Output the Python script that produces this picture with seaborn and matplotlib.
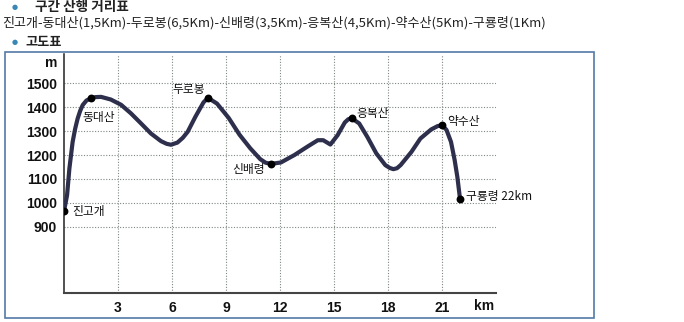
import numpy as np
import pandas as pd
import matplotlib
matplotlib.use("Agg")
import matplotlib.pyplot as plt
from matplotlib.patches import Rectangle
import seaborn as sns

# Trail segments (km) between the checkpoints
segment_names = ["진고개", "동대산", "두로봉", "신배령", "응복산", "약수산", "구룡령"]
segment_km = [1.5, 6.5, 3.5, 4.5, 5, 1]
peak_elev = [965, 1437, 1439, 1163, 1353, 1325, 1018]

# Elevation profile along the ridge (distance km, elevation m)
profile_km = [0, 0.17, 0.3, 0.48, 0.62, 0.76, 0.9, 1.04, 1.25, 1.5, 1.75, 2.06,
              2.6, 3.17, 3.72, 4.28, 4.83, 5.39, 5.7, 5.94, 6.3, 6.6, 6.87,
              7.3, 7.75, 8.0, 8.5, 9.15, 9.75, 10.35, 10.9, 11.2, 11.5, 12.05,
              12.8, 13.5, 14.1, 14.4, 14.8, 15.2, 15.6, 15.8, 16.0, 16.4,
              16.85, 17.35, 17.85, 18.1, 18.3, 18.5, 18.7, 19.3, 19.8, 20.4,
              20.76, 21.0, 21.25, 21.5, 21.7, 21.85, 22.0]
profile_elev = [965, 1032, 1144, 1255, 1310, 1353, 1385, 1409, 1428, 1437, 1442,
                1443, 1432, 1410, 1374, 1332, 1290, 1258, 1247, 1243, 1252, 1272,
                1297, 1360, 1420, 1439, 1415, 1355, 1285, 1228, 1183, 1168, 1163,
                1169, 1200, 1234, 1262, 1262, 1244, 1283, 1336, 1350, 1353, 1332,
                1276, 1207, 1158, 1146, 1141, 1145, 1158, 1213, 1269, 1307, 1321,
                1325, 1305, 1255, 1180, 1110, 1018]

y_ticks = [900, 1000, 1100, 1200, 1300, 1400, 1500]
x_ticks = [3, 6, 9, 12, 15, 18, 21]

header_title = "구간 산행 거리표"
header_route = "진고개-동대산(1,5Km)-두로봉(6,5Km)-신배령(3,5Km)-응복산(4,5Km)-약수산(5Km)-구룡령(1Km)"
chart_title = "고도표"

peak_km = np.concatenate([[0], np.cumsum(segment_km)])
peaks = pd.DataFrame({"name": segment_names, "km": peak_km, "elev": peak_elev})
profile = pd.DataFrame({"km": profile_km, "elev": profile_elev})

sns.set_theme(style="white")
KR = ["Noto Sans CJK KR", "DejaVu Sans"]
NUM = ["Liberation Sans", "DejaVu Sans"]
plt.rcParams["font.family"] = KR

W, H = 684, 322
fig = plt.figure(figsize=(W / 100, H / 100), dpi=100)
fig.patch.set_facecolor("white")

def fx(px):
    return px / W

def fy(py):
    return 1 - py / H

# Header block
bullet_color = "#3a86b4"
fig.text(fx(15), fy(7), "●", fontsize=5, color=bullet_color, ha="center", va="center",
         family=["DejaVu Sans"])
fig.text(fx(35), fy(7), header_title, fontsize=9.8, fontweight="bold", color="#222222",
         ha="left", va="center", family=KR)
fig.text(fx(2), fy(22.5), header_route, fontsize=9.4, color="#222222",
         ha="left", va="center", family=KR)
fig.text(fx(15), fy(42), "●", fontsize=5, color=bullet_color, ha="center", va="center",
         family=["DejaVu Sans"])
fig.text(fx(25), fy(42), chart_title, fontsize=9.5, fontweight="bold", color="#222222",
         ha="left", va="center", family=KR)

# Box around the chart
fig.add_artist(Rectangle((fx(5), fy(318)), fx(594) - fx(5), fy(52) - fy(318),
                         transform=fig.transFigure, fill=False,
                         edgecolor="#5379a6", linewidth=1.2))

ax = fig.add_axes([fx(64), fy(292.7), fx(496) - fx(64), fy(54.5) - fy(292.7)])
ax.set_facecolor("white")

sns.lineplot(data=profile, x="km", y="elev", sort=False, estimator=None, ax=ax,
             color="#2d2f4c", linewidth=3.0, solid_joinstyle="round",
             solid_capstyle="round", zorder=3)
sns.scatterplot(data=peaks, x="km", y="elev", ax=ax, color="black", s=32,
                edgecolor="black", linewidth=0, zorder=4)

ax.set_xlim(0, 24)
ax.set_ylim(625, 1620)
ax.set_xticks(x_ticks)
ax.set_yticks(y_ticks)
ax.set_xticklabels([str(t) for t in x_ticks])
ax.set_yticklabels([str(t) for t in y_ticks])
for lab in ax.get_xticklabels() + ax.get_yticklabels():
    lab.set_family(NUM)
    lab.set_fontweight("bold")
    lab.set_fontsize(10)
    lab.set_color("#111111")
ax.tick_params(axis="both", length=0)
ax.tick_params(axis="y", pad=5)
ax.tick_params(axis="x", pad=6)
ax.set_xlabel("")
ax.set_ylabel("")

ax.grid(True, color="#7f8780", linestyle=(0, (1, 1.5)), linewidth=0.8)
ax.set_axisbelow(True)
for side in ["top", "right"]:
    ax.spines[side].set_visible(False)
ax.spines["left"].set_color("#222222")
ax.spines["left"].set_linewidth(1.1)
ax.spines["bottom"].set_color("#444444")
ax.spines["bottom"].set_linewidth(1.5)

# Unit labels
ax.annotate("m", xy=(0, 1500), xycoords=("axes fraction", "data"), xytext=(-7, 20),
            textcoords="offset pixels", ha="right", va="center", fontsize=10,
            fontweight="bold", family=NUM, color="#111111")
ax.annotate("km", xy=(1, 0), xycoords="axes fraction", xytext=(-12, -13.5),
            textcoords="offset pixels", ha="center", va="center", fontsize=10,
            fontweight="bold", family=NUM, color="#111111")

# Checkpoint labels
label_style = {
    "진고개": ((8, 0), "left"),
    "동대산": ((-9, -19), "left"),
    "두로봉": ((-3, 8), "right"),
    "신배령": ((-6, -6), "right"),
    "응복산": ((4, 5), "left"),
    "약수산": ((5, 4), "left"),
    "구룡령": ((6, 2), "left"),
}
total_km = peak_km[-1]
for name, km, elev in zip(peaks["name"], peaks["km"], peaks["elev"]):
    (dx, dy), ha = label_style[name]
    text = name if name != "구룡령" else f"{name} {total_km:g}km"
    ax.annotate(text, xy=(km, elev), xytext=(dx, dy), textcoords="offset pixels",
                ha=ha, va="center", fontsize=8.5, color="#111111", family=KR,
                zorder=5, annotation_clip=False)

fig.savefig("out.png", dpi=100, facecolor="white")
